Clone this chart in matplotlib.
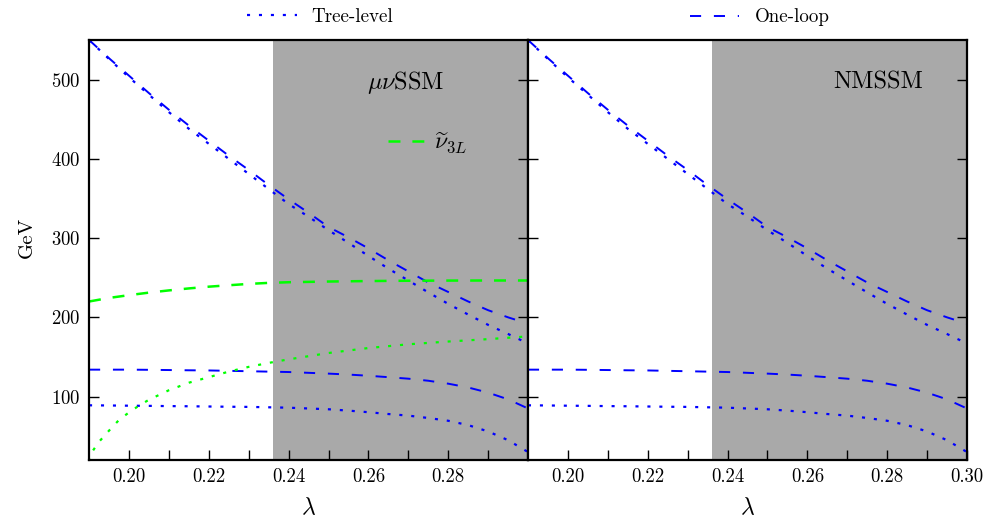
import matplotlib
matplotlib.use('Agg')
import matplotlib.pyplot as plt

plt.rcParams['font.family'] = ['cmr10', 'DejaVu Serif']
plt.rcParams['mathtext.fontset'] = 'cm'
plt.rcParams['axes.unicode_minus'] = False
plt.rcParams['axes.formatter.use_mathtext'] = True
plt.rcParams['lines.scale_dashes'] = False

# ---------------- data ----------------
lam = [0.190, 0.195, 0.200, 0.205, 0.210, 0.215, 0.220, 0.225, 0.230, 0.235, 0.240, 0.245,
       0.250, 0.255, 0.260, 0.265, 0.270, 0.275, 0.280, 0.285, 0.290, 0.295, 0.300]

heavy_one_loop = [550, 527, 505, 483, 462, 442, 423, 404, 386, 367, 349, 332,
                  314, 301, 287, 272, 258, 244, 232, 220, 209, 200, 192]
heavy_tree = [550, 526, 503, 481, 459, 438, 419, 400, 381, 362, 343, 327,
              310, 294, 277.5, 261.5, 246.5, 231.5, 217, 203.5, 190.5, 179, 167]
light_one_loop = [134, 134, 134, 133.8, 133.5, 133.2, 133, 132.5, 132, 131.5, 131, 130,
                  129, 127.8, 126.3, 124.5, 122.6, 120, 116.3, 111.5, 105, 96.5, 85]
light_tree = [89, 88.8, 88.5, 88.3, 88, 87.8, 87.5, 87.2, 87, 86.5, 86, 85,
              84, 82.3, 80.3, 78, 76, 73, 69.5, 64, 56, 45, 30]

lam_snu = [0.190, 0.195, 0.200, 0.205, 0.210, 0.215, 0.220, 0.225, 0.230, 0.235,
           0.240, 0.250, 0.260, 0.270, 0.280, 0.290, 0.300]
snu_one_loop = [220, 224.5, 228, 231.2, 234, 236.5, 238.7, 240.5, 242.2, 243.5,
                244.3, 245.2, 245.8, 246.2, 246.4, 246.5, 246.5]

lam_snu_tree = [0.190, 0.191, 0.1925, 0.195, 0.1975, 0.200, 0.2025, 0.205, 0.210, 0.215,
                0.220, 0.225, 0.230, 0.235, 0.240, 0.245, 0.250, 0.260, 0.270, 0.280,
                0.290, 0.300]
snu_tree = [18, 32, 43, 57, 70.5, 80, 88.5, 96, 108, 117.5,
            124.5, 131.5, 137.5, 142.5, 147, 151, 155, 161.3, 166, 169.5,
            172.5, 176]

excluded_from = 0.236
x_ticks = [0.20, 0.21, 0.22, 0.23, 0.24, 0.25, 0.26, 0.27, 0.28, 0.29, 0.30]
x_labels_left = ['0.20', '', '0.22', '', '0.24', '', '0.26', '', '0.28', '', '']
x_labels_right = ['0.20', '', '0.22', '', '0.24', '', '0.26', '', '0.28', '', '0.30']
y_ticks = [100, 200, 300, 400, 500]

# ---------------- styles ----------------
BLUE = '#0000ff'
GREEN = '#00ff00'
GRAY = '#a9a9a9'
DOT = (0, (2.2, 6.4))
DASH = (0, (8.0, 9.2))
GDASH = (0, (8.6, 8.6))

fig = plt.figure(figsize=(9.85, 5.2), dpi=100)
ax1 = fig.add_axes([0.0904, 0.1154, 0.4457, 0.8077])
ax2 = fig.add_axes([0.5360, 0.1154, 0.4457, 0.8077])

for ax, labels in ((ax1, x_labels_left), (ax2, x_labels_right)):
    ax.axvspan(excluded_from, 0.30, color=GRAY, zorder=0, lw=0)
    lt, = ax.plot(lam, heavy_tree, color=BLUE, lw=1.6, linestyle=DOT)
    ax.plot(lam, light_tree, color=BLUE, lw=1.6, linestyle=DOT)
    lo, = ax.plot(lam, heavy_one_loop, color=BLUE, lw=1.4, linestyle=DASH)
    ax.plot(lam, light_one_loop, color=BLUE, lw=1.4, linestyle=DASH)
    ax.set_xlim(0.19, 0.30)
    ax.set_ylim(20, 550)
    ax.set_xticks(x_ticks)
    ax.set_xticklabels(labels)
    ax.set_yticks(y_ticks)
    ax.tick_params(direction='in', length=7.5, width=1.0, top=False, right=True,
                   labelsize=13.5, pad=6)
    for s in ax.spines.values():
        s.set_linewidth(1.6)
    ax.set_xlabel(r'$\lambda$', fontsize=17)
    ax.xaxis.set_label_coords(0.5, -0.088)
    if ax is ax1:
        tree_handle, loop_handle = lt, lo

gd, = ax1.plot(lam_snu, snu_one_loop, color=GREEN, lw=1.8, linestyle=GDASH)
ax1.plot(lam_snu_tree, snu_tree, color=GREEN, lw=1.6, linestyle=DOT)

ax2.tick_params(labelleft=False)
ax1.set_ylabel('GeV', fontsize=15)
ax1.yaxis.set_label_coords(-0.122, 0.53)

ax1.text(0.722, 0.898, r'$\mu\nu$SSM', transform=ax1.transAxes, fontsize=17.5,
         ha='center', va='center')
ax2.text(0.797, 0.898, 'NMSSM', transform=ax2.transAxes, fontsize=17.5,
         ha='center', va='center')

ax1.legend([gd], [r'$\widetilde{\nu}_{3L}$'], loc='center left',
           bbox_to_anchor=(0.681, 0.755), frameon=False, fontsize=17,
           handlelength=1.6, handletextpad=0.35, borderpad=0, borderaxespad=0)

fig.legend([tree_handle], ['Tree-level'], loc='center left',
           bbox_to_anchor=(0.2508, 0.967), frameon=False, fontsize=13.7,
           handlelength=2.6, handletextpad=0.8, borderpad=0, borderaxespad=0)
fig.legend([loop_handle], ['One-loop'], loc='center left',
           bbox_to_anchor=(0.7005, 0.967), frameon=False, fontsize=13.7,
           handlelength=2.6, handletextpad=0.8, borderpad=0, borderaxespad=0)

fig.savefig('out.png', dpi=100)
